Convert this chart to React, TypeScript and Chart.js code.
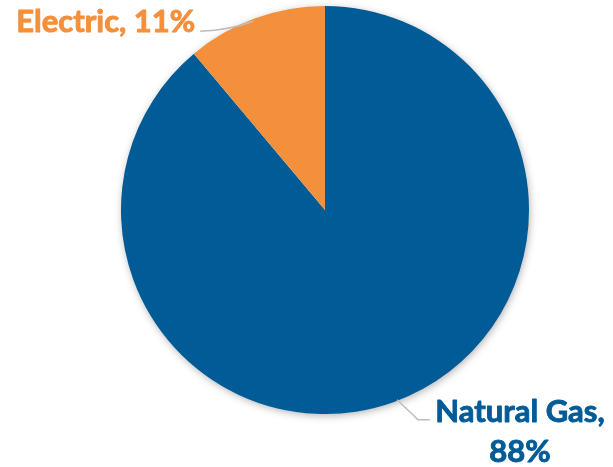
import React, { useEffect, useRef } from "react";
import { Chart, registerables } from "chart.js";

Chart.register(...registerables);

const categories = ["Natural Gas", "Electric"];
const shares = [88, 11];
const sliceColors = ["#015B96", "#F48F3B"];

const labelFont = "bold 31px Lato, 'Open Sans', sans-serif";

// Soft drop shadow under the whole pie, drawn before the slices
const pieShadow = {
  id: "pieShadow",
  beforeDatasetsDraw(chart: any) {
    const arc = chart.getDatasetMeta(0).data[0];
    if (!arc) return;
    const { x, y, outerRadius } = arc;
    const ctx = chart.ctx;
    ctx.save();
    ctx.shadowColor = "rgba(0,0,0,0.35)";
    ctx.shadowBlur = 9;
    ctx.shadowOffsetX = 1;
    ctx.shadowOffsetY = 2;
    ctx.fillStyle = "#ffffff";
    ctx.beginPath();
    ctx.arc(x, y, outerRadius - 1, 0, Math.PI * 2);
    ctx.fill();
    ctx.restore();
  },
};

// Heavy label text: fill plus a thin same-colour outline
function heavyText(ctx: CanvasRenderingContext2D, text: string, x: number, y: number, color: string) {
  ctx.fillStyle = color;
  ctx.strokeStyle = color;
  ctx.lineWidth = 0.9;
  ctx.lineJoin = "round";
  ctx.fillText(text, x, y);
  ctx.strokeText(text, x, y);
}

// Category labels with leader lines
const sliceLabels = {
  id: "sliceLabels",
  afterDraw(chart: any) {
    const ctx = chart.ctx;
    const arcs = chart.getDatasetMeta(0).data;
    ctx.save();
    ctx.strokeStyle = "#BDBDBD";
    ctx.lineWidth = 1.5;

    // Electric
    const e = arcs[1];
    const eMid = (e.startAngle + e.endAngle) / 2;
    const ex = e.x + Math.cos(eMid) * e.outerRadius;
    const ey = e.y + Math.sin(eMid) * e.outerRadius;
    ctx.beginPath();
    ctx.moveTo(ex - 2, ey + 3);
    ctx.quadraticCurveTo(ex - 25, ey + 12, ex - 55, ey + 13);
    ctx.stroke();

    // Natural Gas
    const n = arcs[0];
    const nAng = (69.2 * Math.PI) / 180;
    const nx = n.x + Math.cos(nAng) * (n.outerRadius - 1);
    const ny = n.y + Math.sin(nAng) * (n.outerRadius - 1);
    ctx.beginPath();
    ctx.moveTo(nx, ny);
    ctx.lineTo(nx + 21, ny + 20);
    ctx.lineTo(nx + 33, ny + 20);
    ctx.stroke();

    ctx.font = labelFont;
    ctx.textBaseline = "alphabetic";
    ctx.textAlign = "right";
    heavyText(ctx, `${categories[1]}, ${shares[1]}%`, ex - 60, ey + 14, sliceColors[1]);

    ctx.textAlign = "center";
    heavyText(ctx, `${categories[0]},`, 520, 422, sliceColors[0]);
    heavyText(ctx, `${shares[0]}%`, 520, 462, sliceColors[0]);
    ctx.restore();
  },
};

export default function App() {
  const canvasRef = useRef<HTMLCanvasElement>(null);

  useEffect(() => {
    if (!canvasRef.current) return;
    const chart = new Chart(canvasRef.current, {
      type: "pie",
      data: {
        labels: categories,
        datasets: [
          {
            data: shares,
            backgroundColor: sliceColors,
            borderWidth: 0,
          },
        ],
      },
      options: {
        animation: false,
        responsive: false,
        layout: { padding: { left: 121, right: 84, top: 6, bottom: 53 } },
        plugins: {
          legend: { display: false },
          tooltip: { enabled: false },
        },
      },
      plugins: [pieShadow, sliceLabels],
    });
    return () => chart.destroy();
  }, []);

  return (
    <div style={{ position: "absolute", left: 0, top: 0, width: 613, height: 467, background: "#fff" }}>
      <canvas ref={canvasRef} width={613} height={467} />
    </div>
  );
}
